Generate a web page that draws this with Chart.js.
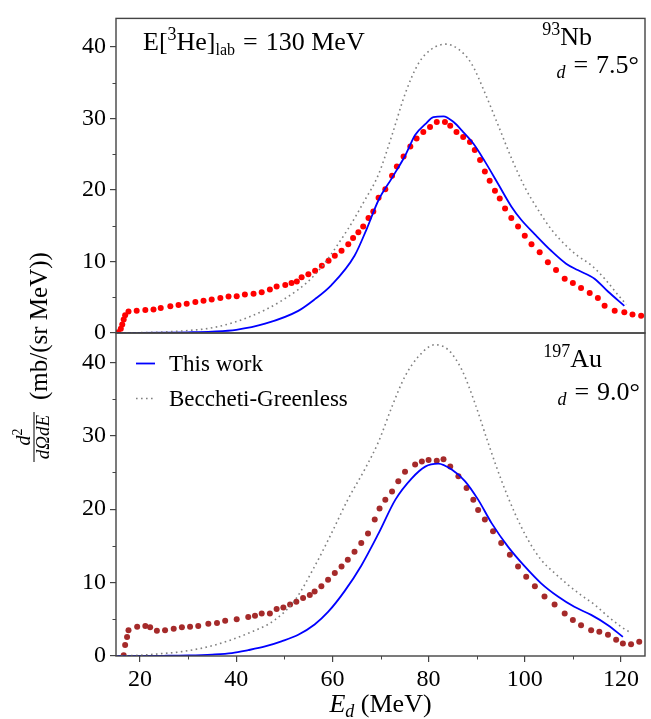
<!DOCTYPE html>
<html>
<head>
<meta charset="utf-8">
<script src="https://cdn.jsdelivr.net/npm/chart.js@4.4.1/dist/chart.umd.min.js"></script>
<style>
  html, body { margin: 0; padding: 0; background: #fff; }
  #wrap { position: relative; width: 651px; height: 719px; }
  #wrap canvas { position: absolute; left: 0; top: 0; }
</style>
</head>
<body>
<div id="wrap">
  <canvas id="topChart" width="651" height="719"></canvas>
  <canvas id="bottomChart" width="651" height="719"></canvas>
</div>
<script>
// ticks
const xTicks = [20, 40, 60, 80, 100, 120];
const xMinorTicks = [30, 50, 70, 90, 110];
const yTicks = [0, 10, 20, 30, 40];
const yMinorTicks = [5, 15, 25, 35];

// 93Nb, theta_d = 7.5 deg
const nbExpE = [15.4, 16.0, 16.3, 16.6, 16.9, 17.6, 19.3, 21.1, 22.8, 24.3, 26.3, 28.0, 29.7, 31.5, 33.2, 34.9, 36.7, 38.4, 40.1, 41.8,
  43.6, 45.3, 47.0, 48.4, 50.2, 51.5, 52.6, 53.6, 55.0, 56.4, 57.8, 59.2, 60.5, 61.9, 63.3, 64.3, 65.4, 66.4, 67.5, 68.5,
  69.6, 71.0, 72.4, 73.4, 74.8, 76.2, 77.5, 78.9, 80.3, 81.7, 83.4, 84.5, 85.8, 87.2, 88.6, 89.6, 90.7, 91.7, 92.7, 93.8,
  94.8, 95.9, 97.2, 98.6, 100.0, 101.4, 103.1, 104.8, 106.5, 108.3, 110.0, 111.7, 113.5, 115.2, 116.6, 118.7, 120.7, 122.4, 124.2];
const nbExpXs = [0.1, 0.6, 1.2, 1.9, 2.5, 3.0, 3.1, 3.2, 3.3, 3.5, 3.75, 3.9, 4.1, 4.35, 4.5, 4.7, 4.9, 5.1, 5.15, 5.4,
  5.5, 5.7, 6.1, 6.5, 6.7, 7.0, 7.2, 7.8, 8.2, 8.7, 9.4, 10.1, 10.8, 11.5, 12.4, 13.3, 14.1, 14.9, 16.1, 17.0,
  18.9, 20.1, 22.0, 23.3, 24.7, 26.1, 27.2, 28.1, 28.8, 29.5, 29.5, 29.0, 28.1, 27.4, 26.7, 25.6, 24.2, 22.6, 21.3, 19.9,
  18.8, 17.4, 16.1, 14.9, 13.6, 12.4, 11.3, 9.9, 8.8, 7.6, 7.0, 6.3, 5.6, 4.9, 3.8, 3.1, 2.9, 2.6, 2.4];
const nbThisE = [15, 20, 25, 30, 35, 40, 46.0, 52.9, 56.3, 59.8, 64.6, 67.1, 69.6, 72.4, 75.2, 77.2, 79.3, 81.0, 83.1, 85.2,
  87.2, 89.3, 91.7, 94.5, 97.2, 99.3, 102.1, 105.5, 108.6, 111.0, 114.5, 117.3, 120.7];
const nbThisXs = [0, 0.02, 0.05, 0.1, 0.2, 0.45, 1.3, 3.1, 4.7, 6.7, 10.8, 14.5, 18.6, 21.7, 24.9, 27.7, 29.2, 30.2, 30.3, 29.5,
  28.1, 26.5, 24.0, 20.8, 17.7, 15.8, 13.8, 11.5, 9.7, 8.8, 7.6, 5.8, 3.8];
const nbBgE = [15, 20, 25, 30, 35.6, 42.5, 49.4, 56.3, 63.2, 66.5, 69.6, 72.4, 75.2, 77.9, 80.6, 83.7, 86.2, 88.9, 91.7, 94.5,
  97.2, 100.0, 102.8, 105.5, 108.3, 111.0, 113.8, 116.6, 119.3, 121.1];
const nbBgXs = [0, 0.05, 0.15, 0.35, 0.8, 2.2, 4.5, 8.1, 14.5, 18.3, 22.2, 27.7, 33.6, 37.7, 39.7, 40.4, 39.7, 37.7, 33.6, 29.0,
  24.5, 20.4, 17.2, 14.5, 12.4, 10.8, 9.5, 7.6, 5.4, 4.0];

// 197Au, theta_d = 9.0 deg
const auExpE = [16.6, 16.9, 17.3, 17.6, 19.4, 21.1, 22.1, 23.5, 25.2, 27.0, 28.7, 30.4, 32.1, 34.2, 36.0, 37.7, 40.1, 42.5, 43.9, 45.3,
  47.0, 48.4, 49.8, 51.2, 52.5, 53.9, 55.3, 56.3, 57.7, 59.1, 60.5, 61.9, 63.2, 64.6, 66.0, 67.4, 68.8, 69.8, 71.0, 72.4,
  73.7, 75.1, 77.2, 78.6, 80.0, 81.7, 83.1, 84.5, 86.2, 87.9, 89.3, 90.3, 91.7, 93.4, 95.1, 96.9, 98.6, 100.3, 102.1, 104.1,
  106.2, 108.3, 110.0, 111.7, 113.8, 115.5, 117.3, 119.0, 120.4, 122.1, 123.8];
const auExpXs = [0.1, 1.5, 2.6, 3.5, 4.0, 4.1, 3.9, 3.45, 3.5, 3.7, 3.9, 4.0, 4.1, 4.4, 4.5, 4.8, 5.0, 5.3, 5.5, 5.8,
  5.8, 6.4, 6.6, 7.0, 7.4, 7.9, 8.3, 8.8, 9.5, 10.4, 11.3, 12.2, 13.1, 14.2, 15.4, 16.7, 18.6, 20.1, 21.3, 22.4,
  23.8, 25.1, 26.1, 26.5, 26.7, 26.6, 26.8, 25.8, 24.5, 22.9, 21.3, 19.9, 18.6, 17.0, 15.4, 13.8, 12.2, 10.8, 9.5, 8.1,
  7.0, 5.8, 4.9, 4.2, 3.5, 3.3, 2.9, 2.2, 1.7, 1.6, 1.95];
const auThisE = [15, 20, 25, 30, 35, 39.1, 42.5, 46.0, 49.4, 52.9, 56.3, 59.1, 62.5, 66.0, 69.6, 73.1, 76.5, 79.3, 82.0, 84.8,
  87.6, 90.3, 93.1, 96.5, 100.0, 103.4, 106.9, 110.3, 113.8, 117.3, 120.4];
const auThisXs = [0, 0.01, 0.03, 0.08, 0.2, 0.4, 0.8, 1.3, 2.0, 2.9, 4.3, 6.0, 8.8, 12.3, 16.7, 21.3, 24.2, 25.8, 26.2, 25.4,
  23.8, 21.3, 18.1, 14.9, 12.2, 9.9, 8.1, 6.7, 5.6, 4.2, 2.6];
const auBgE = [15, 20, 24, 28.7, 35.6, 42.5, 48.0, 52.2, 56.3, 59.8, 63.2, 66.7, 69.6, 72.4, 75.1, 77.9, 81.3, 84.1, 86.9, 89.6,
  92.4, 95.1, 97.9, 100.7, 103.4, 106.2, 109.0, 111.7, 114.5, 117.3, 120.0, 121.7];
const auBgXs = [0, 0.1, 0.3, 0.6, 1.5, 3.1, 4.9, 7.6, 12.2, 16.7, 21.3, 25.4, 29.2, 34.0, 38.1, 40.8, 42.4, 41.7, 39.0, 34.5,
  29.0, 24.0, 19.5, 15.8, 13.1, 11.3, 9.7, 8.3, 7.0, 5.4, 4.0, 3.3];

const SERIF = "'Liberation Serif', 'DejaVu Serif', serif";
const FRAME = '#444';

function pts(xs, ys) {
  return xs.map((x, i) => ({ x: x, y: ys[i] }));
}

function expSet(xs, ys, color) {
  return { data: pts(xs, ys), showLine: false, pointRadius: 3, pointBorderWidth: 0,
    pointBackgroundColor: color, pointBorderColor: color, clip: 0 };
}
function thisSet(xs, ys) {
  return { data: pts(xs, ys), borderColor: '#0000ff', borderWidth: 1.8, pointRadius: 0,
    cubicInterpolationMode: 'monotone', clip: 0 };
}
function bgSet(xs, ys) {
  return { data: pts(xs, ys), borderColor: '#808080', borderWidth: 1.6, borderDash: [1.6, 3.4], pointRadius: 0,
    cubicInterpolationMode: 'monotone', clip: 0 };
}

// draw a row of text pieces (superscripts / subscripts)
function drawRuns(ctx, runs, x, y, align) {
  let total = 0;
  runs.forEach(r => {
    if (r.gap) { total += r.gap; return; }
    ctx.font = (r.it ? 'italic ' : '') + r.s + 'px ' + SERIF;
    total += ctx.measureText(r.t).width;
  });
  let cx = align === 'right' ? x - total : (align === 'center' ? x - total / 2 : x);
  ctx.fillStyle = '#000';
  ctx.textAlign = 'left';
  ctx.textBaseline = 'alphabetic';
  runs.forEach(r => {
    if (r.gap) { cx += r.gap; return; }
    ctx.font = (r.it ? 'italic ' : '') + r.s + 'px ' + SERIF;
    ctx.fillText(r.t, cx, y + (r.dy || 0));
    cx += ctx.measureText(r.t).width;
  });
}

function panelPlugin(extra) {
  return {
    id: 'panelDeco',
    afterDraw(chart) {
      const ctx = chart.ctx;
      const a = chart.chartArea;
      const xs = chart.scales.x, ys = chart.scales.y;
      ctx.save();
      ctx.strokeStyle = FRAME;
      ctx.lineWidth = 1.4;
      ctx.strokeRect(a.left, a.top, a.right - a.left, a.bottom - a.top);
      ctx.lineWidth = 1;
      ctx.beginPath();
      yMinorTicks.forEach(v => {
        const py = Math.round(ys.getPixelForValue(v)) + 0.5;
        ctx.moveTo(a.left, py);
        ctx.lineTo(a.left - 3.5, py);
      });
      if (xs.options.display) {
        xMinorTicks.forEach(v => {
          const px = Math.round(xs.getPixelForValue(v)) + 0.5;
          ctx.moveTo(px, a.bottom);
          ctx.lineTo(px, a.bottom + 3.5);
        });
      }
      ctx.stroke();
      extra(ctx, chart);
      ctx.restore();
    }
  };
}

function makePanel(id, datasets, padTop, padBottom, showX, extra) {
  return new Chart(document.getElementById(id), {
    type: 'line',
    data: { datasets: datasets },
    options: {
      responsive: false,
      animation: false,
      devicePixelRatio: 1,
      layout: { padding: { top: padTop, bottom: padBottom, left: 0, right: 6 } },
      plugins: { legend: { display: false }, tooltip: { enabled: false } },
      scales: {
        x: {
          type: 'linear', min: 15, max: 125, display: showX,
          afterBuildTicks: s => { s.ticks = xTicks.map(v => ({ value: v })); },
          afterFit: s => { s.height = showX ? 63 : 0; },
          grid: { drawOnChartArea: false, tickLength: 6, color: FRAME, lineWidth: 1.2 },
          border: { display: false },
          ticks: { font: { family: SERIF, size: 24 }, color: '#000', padding: 3, maxRotation: 0, autoSkip: false }
        },
        y: {
          type: 'linear', min: 0, max: 44,
          afterBuildTicks: s => { s.ticks = yTicks.map(v => ({ value: v })); },
          afterFit: s => { s.width = 116; },
          grid: { drawOnChartArea: false, tickLength: 6, color: FRAME, lineWidth: 1.2 },
          border: { display: false },
          ticks: { font: { family: SERIF, size: 24 }, color: '#000', padding: 4 }
        }
      }
    },
    plugins: [panelPlugin(extra)]
  });
}

// upper panel: 93Nb
makePanel('topChart', [
  bgSet(nbBgE, nbBgXs),
  thisSet(nbThisE, nbThisXs),
  expSet(nbExpE, nbExpXs, '#ff0000')
], 10, 386, false, (ctx) => {
  drawRuns(ctx, [{ t: 'E[', s: 26 }, { t: '3', s: 18, dy: -10 }, { t: 'He]', s: 26 }, { t: 'lab', s: 16, dy: 5 },
    { gap: 8 }, { t: '=', s: 26 }, { gap: 8 }, { t: '130 MeV', s: 26 }], 143, 50, 'left');
  drawRuns(ctx, [{ t: '93', s: 18, dy: -10 }, { t: 'Nb', s: 26 }], 592, 45, 'right');
  drawRuns(ctx, [{ t: 'd', s: 18, it: true, dy: 5 }, { gap: 8 }, { t: '=', s: 26 }, { gap: 8 }, { t: '7.5°', s: 26 }], 639, 73, 'right');

  // y-axis title, rotated
  ctx.save();
  ctx.translate(37, 400);
  ctx.rotate(-Math.PI / 2);
  ctx.fillStyle = '#000';
  ctx.textBaseline = 'alphabetic';
  ctx.textAlign = 'left';
  ctx.font = '25px ' + SERIF;
  ctx.fillText('(mb/(sr MeV))', 0, 10);
  // fraction d^2 / dOmega dE
  const fx0 = -62, fx1 = -12;
  ctx.strokeStyle = '#000';
  ctx.lineWidth = 1;
  ctx.beginPath();
  ctx.moveTo(fx0, -3);
  ctx.lineTo(fx1, -3);
  ctx.stroke();
  drawRuns(ctx, [{ t: 'd', s: 20, it: true }, { t: '2', s: 14, dy: -8 }], (fx0 + fx1) / 2, -7, 'center');
  drawRuns(ctx, [{ t: 'dΩdE', s: 19, it: true }], (fx0 + fx1) / 2, 12, 'center');
  ctx.restore();
});

// lower panel: 197Au
makePanel('bottomChart', [
  bgSet(auBgE, auBgXs),
  thisSet(auThisE, auThisXs),
  expSet(auExpE, auExpXs, '#a52a2a')
], 333, 0, true, (ctx) => {
  drawRuns(ctx, [{ t: '197', s: 18, dy: -10 }, { t: 'Au', s: 26 }], 602, 367, 'right');
  drawRuns(ctx, [{ t: 'd', s: 18, it: true, dy: 5 }, { gap: 8 }, { t: '=', s: 26 }, { gap: 8 }, { t: '9.0°', s: 26 }], 640, 400, 'right');

  // legend
  ctx.lineWidth = 1.8;
  ctx.strokeStyle = '#0000ff';
  ctx.beginPath();
  ctx.moveTo(136, 363.5);
  ctx.lineTo(155, 363.5);
  ctx.stroke();
  ctx.strokeStyle = '#808080';
  ctx.lineWidth = 1.6;
  ctx.setLineDash([1.6, 3.4]);
  ctx.beginPath();
  ctx.moveTo(136, 398.5);
  ctx.lineTo(155, 398.5);
  ctx.stroke();
  ctx.setLineDash([]);
  drawRuns(ctx, [{ t: 'This work', s: 23 }], 169, 371, 'left');
  drawRuns(ctx, [{ t: 'Beccheti-Greenless', s: 23 }], 169, 406, 'left');

  // x-axis title
  drawRuns(ctx, [{ t: 'E', s: 26, it: true }, { t: 'd', s: 18, it: true, dy: 5 }, { t: ' (MeV)', s: 26 }], 380.5, 712, 'center');
});
</script>
</body>
</html>
